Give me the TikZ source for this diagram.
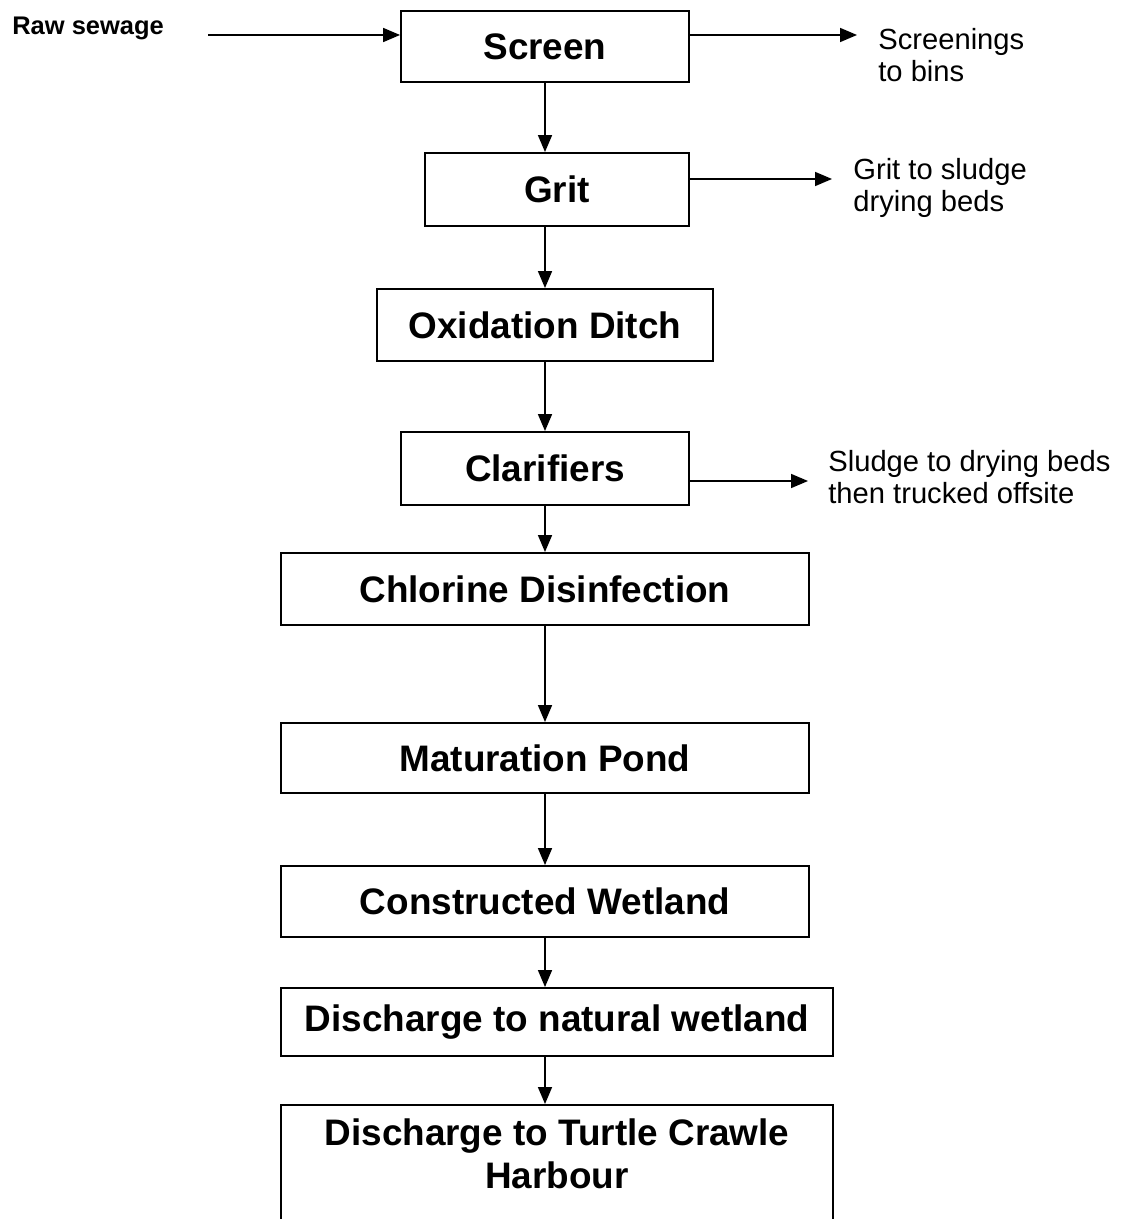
\documentclass[tikz,border=0pt]{standalone}
\usepackage{fontspec}
\setmainfont{Liberation Sans}
\usetikzlibrary{arrows.meta}

\begin{document}
\begin{tikzpicture}[x=0.02cm, y=-0.02cm,
  procbox/.style={draw, line width=1.1pt, rectangle, inner sep=0pt, align=center,
    font=\bfseries\fontsize{21}{24.5}\selectfont},
  sidetext/.style={anchor=west, align=left, inner sep=0pt,
    font=\fontsize{16.6}{18.5}\selectfont},
  flow/.style={line width=0.95pt, -{Triangle[length=0.34cm, width=0.28cm]}}]
\useasboundingbox (0,0) rectangle (1122,1219);

\node[procbox, minimum width=5.76cm, minimum height=1.42cm] (screen) at (545,46.5) {Screen};
\node[procbox, minimum width=5.28cm, minimum height=1.46cm] (grit) at (557,189.5) {Grit};
\node[procbox, minimum width=6.72cm, minimum height=1.44cm] (oxditch) at (545,325) {Oxidation Ditch};
\node[procbox, minimum width=5.76cm, minimum height=1.46cm] (clarif) at (545,468.5) {Clarifiers};
\node[procbox, minimum width=10.56cm, minimum height=1.44cm] (chlorine) at (545,589) {Chlorine Disinfection};
\node[procbox, minimum width=10.56cm, minimum height=1.40cm] (matpond) at (545,758) {Maturation Pond};
\node[procbox, minimum width=10.56cm, minimum height=1.42cm] (cwetland) at (545,901.5) {Constructed Wetland};
\node[procbox, minimum width=11.04cm, minimum height=1.36cm] (natwet) at (557,1022) {Discharge to natural wetland};
\node[procbox, minimum width=11.04cm, anchor=north, inner ysep=0.28cm, text depth=2.2cm] (harbour) at (557,1104)
  {Discharge to Turtle Crawle\\Harbour};

\node[anchor=west, inner sep=0pt, font=\bfseries\fontsize{14.5}{16}\selectfont] (raw) at (12,28) {Raw sewage};
\node[sidetext] (screenings) at (878,55) {Screenings\\to bins};
\node[sidetext] (gritout) at (853,188) {Grit to sludge\\drying beds};
\node[sidetext] (sludge) at (828,477) {Sludge to drying beds\\then trucked offsite};

\coordinate (rawin) at (208,35);
\coordinate (scrtip) at (857,35);
\coordinate (grittip) at (832,179);
\coordinate (sludgetip) at (808,481);

\draw[flow] (rawin) -- (rawin -| screen.west);
\draw[flow] (screen.east |- scrtip) -- (scrtip);
\draw[flow] (grit.east |- grittip) -- (grittip);
\draw[flow] (clarif.east |- sludgetip) -- (sludgetip);

\draw[flow] (screen.south) -- (screen.south |- grit.north);
\draw[flow] (oxditch.north |- grit.south) -- (oxditch.north);
\draw[flow] (oxditch.south) -- (clarif.north);
\draw[flow] (clarif.south) -- (chlorine.north);
\draw[flow] (chlorine.south) -- (matpond.north);
\draw[flow] (matpond.south) -- (cwetland.north);
\draw[flow] (cwetland.south) -- (cwetland.south |- natwet.north);
\draw[flow] (cwetland.south |- natwet.south) -- (cwetland.south |- harbour.north);
\end{tikzpicture}
\end{document}
